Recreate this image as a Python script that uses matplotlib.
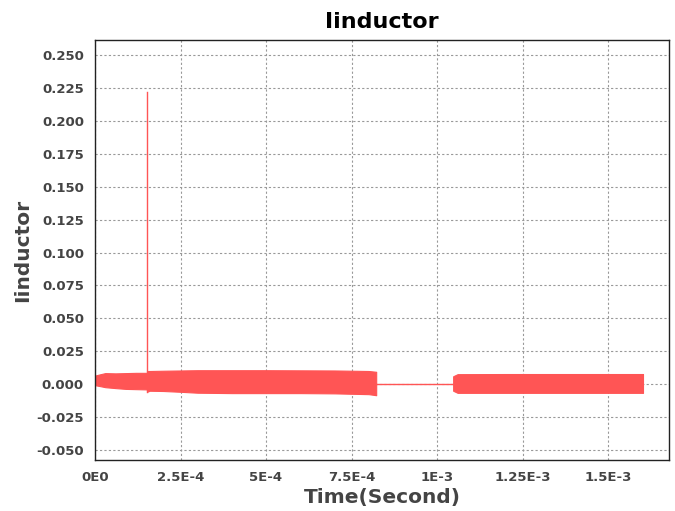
import numpy as np
import matplotlib.pyplot as plt

# envelope of the oscillating inductor current
# segment 1: before the spike
t1 = [0.0, 0.15e-4, 0.3e-4, 0.6e-4, 0.9e-4, 1.2e-4, 1.52e-4]
up1 = [0.0065, 0.0075, 0.0084, 0.0082, 0.0084, 0.0086, 0.0086]
lo1 = [-0.0008, -0.0015, -0.0023, -0.0030, -0.0036, -0.0038, -0.0040]

# segment 2: after the spike, up to switch-off
t2 = [1.52e-4, 1.6e-4, 2.0e-4, 2.5e-4, 3.0e-4, 4.0e-4, 5.0e-4, 6.0e-4, 7.0e-4, 8.0e-4, 8.22e-4]
up2 = [0.0100, 0.0100, 0.0102, 0.0104, 0.0106, 0.0106, 0.0106, 0.0105, 0.0104, 0.0100, 0.0094]
lo2 = [-0.0058, -0.0050, -0.0052, -0.0058, -0.0065, -0.0068, -0.0068, -0.0068, -0.0070, -0.0076, -0.0084]

# segment 3: flat zero section
t3 = [8.22e-4, 1.047e-3]
v3 = [0.0003, 0.0003]

# segment 4: second burst
t4 = [1.047e-3, 1.06e-3, 1.2e-3, 1.4e-3, 1.6e-3, 1.602e-3]
up4 = [0.0060, 0.0076, 0.0077, 0.0077, 0.0077, 0.0077]
lo4 = [-0.0050, -0.0066, -0.0066, -0.0066, -0.0066, -0.0066]

# spike
spike_t = [1.52e-4, 1.52e-4]
spike_v = [-0.0060, 0.222]

xticks = [0, 2.5e-4, 5e-4, 7.5e-4, 1e-3, 1.25e-3, 1.5e-3]
xticklabels = ["0E0", "2.5E-4", "5E-4", "7.5E-4", "1E-3", "1.25E-3", "1.5E-3"]
yticks = [-0.050, -0.025, 0.000, 0.025, 0.050, 0.075, 0.100, 0.125, 0.150,
          0.175, 0.200, 0.225, 0.250]

red = "#ff5555"
grey = "#444444"

fig = plt.figure(figsize=(6.75, 5.11), dpi=100)
ax = fig.add_axes([95 / 675, 51 / 511, 574 / 675, 420 / 511])

ax.fill_between(t1, lo1, up1, color=red, lw=0.8, edgecolor=red)
ax.fill_between(t2, lo2, up2, color=red, lw=0.8, edgecolor=red)
ax.fill_between(t4, lo4, up4, color=red, lw=0.8, edgecolor=red)
ax.plot(t3, v3, color=red, lw=1.0)
ax.plot(spike_t, spike_v, color=red, lw=1.0)

ax.set_xlim(0, 1.678e-3)
ax.set_ylim(-0.0576, 0.2614)
ax.set_xticks(xticks)
ax.set_xticklabels(xticklabels)
ax.set_yticks(yticks)
ax.set_yticklabels(["%.3f" % v for v in yticks])

ax.grid(True, color="#999999", linestyle=(0, (2, 2)), linewidth=0.8)
ax.set_axisbelow(True)
ax.tick_params(length=0, pad=8, labelsize=9.5, labelcolor=grey)
for lab in ax.get_xticklabels() + ax.get_yticklabels():
    lab.set_fontweight("bold")
for s in ax.spines.values():
    s.set_color("#222222")
    s.set_linewidth(1.0)

ax.set_title("Iinductor", fontsize=16, fontweight="bold", pad=9)
ax.set_xlabel("Time(Second)", fontsize=14.5, fontweight="bold", color=grey, labelpad=3)
ax.set_ylabel("Iinductor", fontsize=14.5, fontweight="bold", color=grey, labelpad=3)

fig.savefig("out.png", dpi=100)
